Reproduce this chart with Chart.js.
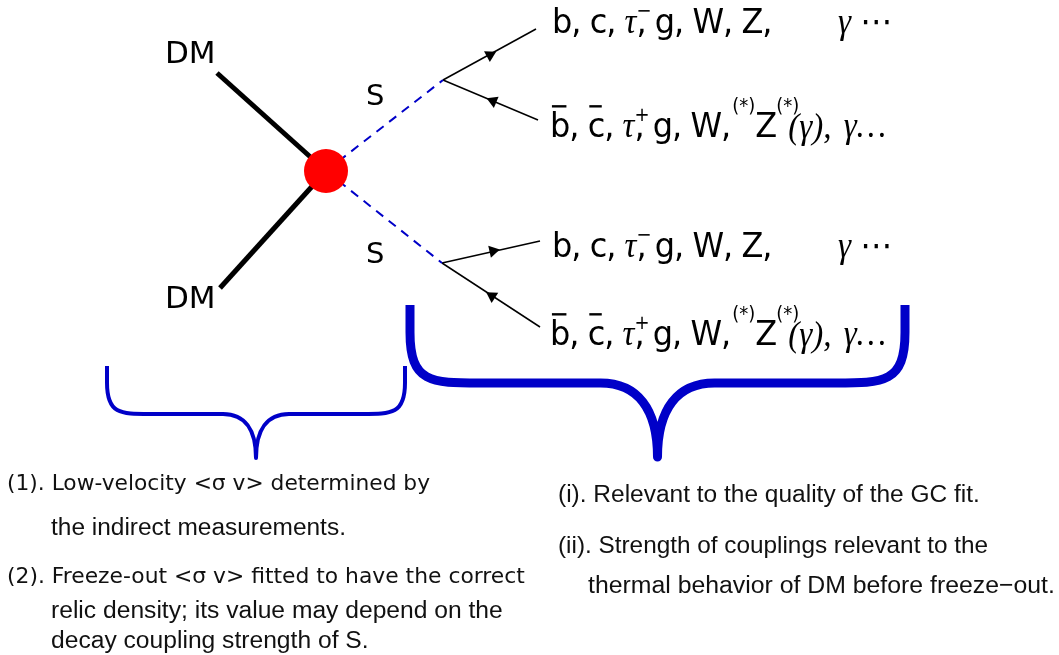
<!DOCTYPE html>
<html>
<head>
<meta charset="utf-8">
<script src="https://cdn.jsdelivr.net/npm/chart.js@4.4.1/dist/chart.umd.min.js"></script>
<style>
  html, body { margin: 0; padding: 0; background: #fff; }
  #diagram { display: block; }
</style>
</head>
<body>
<canvas id="diagram" width="1059" height="655"></canvas>
<script>
// diagram points, in picture units (x to the right, y downwards)
const blobX = [326];
const blobY = [171];
const dmLegX = [217, 220];
const dmLegY = [73, 288];
const sEndX = [443, 442];
const sEndY = [80, 263];
// fermion lines, two for each S
const fEndX = [536, 538, 540, 540];
const fEndY = [29, 120, 241, 327];
const fFrom = [0, 0, 1, 1];
const arrowX = [490, 493, 493, 492];
const arrowY = [55, 101, 251, 296];
const arrowIn = [false, true, false, true];
// braces: small one under the annihilation, big one under the decays
const braceL = [107, 410];
const braceR = [405, 905];
const braceTop = [366, 305];
const braceBar = [414, 383];
const braceTip = [458, 457];

const dmLabels = ['DM', 'DM'];
const sLabels = ['S', 'S'];
const rowX = [552, 550, 552, 550];
const rowY = [33, 137, 257, 345];
const rowAnti = [false, true, false, true];

const notesLeft = [
  '(1). Low-velocity <σ v> determined by',
  'the indirect measurements.',
  '(2). Freeze-out <σ v> fitted to have the correct',
  'relic density; its value may depend on the',
  'decay coupling strength of S.'
];
const notesRight = [
  '(i). Relevant to the quality of the GC fit.',
  '(ii). Strength of couplings relevant to the',
  'thermal behavior of DM before freeze\u2212out.'
];

const BLUE = '#0000c8';
const SANS = 'DejaVu Sans';
const HELV = 'Liberation Sans';
const SERIF = 'Liberation Serif';

const leftLayout = [
  {x: 7, y: 490, w: 423, family: SANS},
  {x: 51, y: 535, w: 295, family: HELV},
  {x: 7, y: 583, w: 518, family: SANS},
  {x: 51, y: 618, w: 452, family: HELV},
  {x: 51, y: 648, family: HELV, like: 3}
];
const rightLayout = [
  {x: 558, y: 502, w: 422, family: HELV},
  {x: 558, y: 553, w: 430, family: HELV},
  {x: 588, y: 593, w: 467, family: HELV}
];

const seg = (x1, y1, x2, y2) => [{x: x1, y: y1}, {x: x2, y: y2}];

const datasets = [];
datasets.push({
  data: [{x: blobX[0], y: blobY[0]}],
  showLine: false,
  pointRadius: 22,
  pointBackgroundColor: '#ff0000',
  pointBorderWidth: 0,
  order: -1
});
dmLegX.forEach((x, i) => datasets.push({
  data: seg(x, dmLegY[i], blobX[0], blobY[0]),
  showLine: true, borderColor: '#000', borderWidth: 5, pointRadius: 0
}));
sEndX.forEach((x, i) => datasets.push({
  data: seg(blobX[0], blobY[0], x, sEndY[i]),
  showLine: true, borderColor: BLUE, borderWidth: 2, borderDash: [9, 7], pointRadius: 0
}));
fEndX.forEach((x, i) => datasets.push({
  data: seg(sEndX[fFrom[i]], sEndY[fFrom[i]], x, fEndY[i]),
  showLine: true, borderColor: '#000', borderWidth: 1.5, pointRadius: 0
}));

// arrow heads follow the direction of their fermion line
const arrowRot = fEndX.map((x, i) => {
  const dx = x - sEndX[fFrom[i]], dy = fEndY[i] - sEndY[fFrom[i]];
  let deg = Math.atan2(dy, dx) * 180 / Math.PI + 90;
  return arrowIn[i] ? deg + 180 : deg;
});
datasets.push({
  data: arrowX.map((x, i) => ({x: x, y: arrowY[i]})),
  showLine: false,
  pointStyle: 'triangle',
  pointRadius: 7,
  pointRotation: arrowRot,
  pointBackgroundColor: '#000',
  pointBorderWidth: 0
});

// the particle rows are set a little taller and tighter than DejaVu draws them
const ROW_STRETCH = 1.08;

function drawRuns(ctx, x0, y0, runs) {
  ctx.save();
  ctx.translate(x0, y0);
  ctx.scale(1, ROW_STRETCH);
  let x = 0;
  runs.forEach(r => {
    ctx.font = r.font;
    ctx.letterSpacing = r.font === F ? '-1px' : '0px';
    x += r.dx || 0;
    ctx.fillText(r.t, x, r.dy || 0);
    const w = ctx.measureText(r.t).width;
    if (r.bar) ctx.fillRect(x + w * 0.1, -29.5, w * 0.75, 2.2);
    if (r.adv !== false) x += w;
  });
  ctx.restore();
}

const F = '32px ' + SANS;
const IT = 'italic 33px ' + SERIF;
const SUP = '18px ' + SANS;

const overlay = {
  id: 'overlay',
  afterDatasetsDraw(chart) {
    const ctx = chart.ctx;
    const sx = chart.scales.x, sy = chart.scales.y;
    const X = v => sx.getPixelForValue(v), Y = v => sy.getPixelForValue(v);
    ctx.save();

    // braces
    braceL.forEach((l, i) => {
      const r = braceR[i], top = Y(braceTop[i]), bar = Y(braceBar[i]), tip = Y(braceTip[i]);
      const x0 = X(l), x1 = X(r), xm = (x0 + x1) / 2;
      const rc = i === 0 ? 43 : 70, q = i === 0 ? 33 : 57;
      const hook = (bar - top) * 0.35;
      ctx.beginPath();
      ctx.moveTo(x0, top);
      ctx.lineTo(x0, top + hook);
      ctx.bezierCurveTo(x0, bar, x0 + rc * 0.3, bar, x0 + rc, bar);
      ctx.lineTo(xm - q, bar);
      ctx.bezierCurveTo(xm - q * 0.35, bar, xm, bar + (tip - bar) * 0.35, xm, tip);
      ctx.bezierCurveTo(xm, bar + (tip - bar) * 0.35, xm + q * 0.35, bar, xm + q, bar);
      ctx.lineTo(x1 - rc, bar);
      ctx.bezierCurveTo(x1 - rc * 0.3, bar, x1, bar, x1, top + hook);
      ctx.lineTo(x1, top);
      ctx.strokeStyle = BLUE;
      ctx.lineWidth = i === 0 ? 4 : 9;
      ctx.lineJoin = 'round';
      ctx.stroke();
    });

    ctx.fillStyle = '#000';
    ctx.textBaseline = 'alphabetic';
    ctx.font = '31px ' + SANS;
    ctx.fillText(dmLabels[0], X(165), Y(63));
    ctx.fillText(dmLabels[1], X(165), Y(308));
    ctx.font = '29px ' + SANS;
    ctx.fillText(sLabels[0], X(366), Y(105));
    ctx.fillText(sLabels[1], X(366), Y(263));

    // final states
    rowX.forEach((x, i) => {
      const px = X(x), py = Y(rowY[i]);
      if (!rowAnti[i]) {
        drawRuns(ctx, px, py, [
          {t: 'b, c, ', font: F},
          {t: 'τ', font: IT},
          {t: '\u2212', font: SUP, dy: -15, adv: false},
          {t: ', g, W, Z,', font: F}
        ]);
        drawRuns(ctx, X(838), py, [
          {t: 'γ', font: IT},
          {t: ' \u22ef', font: F}
        ]);
      } else {
        drawRuns(ctx, px, py, [
          {t: 'b', font: F, bar: true},
          {t: ', ', font: F},
          {t: 'c', font: F, bar: true},
          {t: ', ', font: F},
          {t: 'τ', font: IT},
          {t: '+', font: SUP, dy: -15, adv: false},
          {t: ', g, W,', font: F},
          {t: '(*)', font: SUP, dy: -23, dx: 2},
          {t: 'Z', font: F},
          {t: '(*)', font: SUP, dy: -23, adv: false},
          {t: '(γ),', font: IT, dx: 12, dy: 1},
          {t: ' γ…', font: IT, dx: 4}
        ]);
      }
    });

    // notes under the braces
    const notes = (texts, layout) => {
      const sizes = [];
      layout.forEach((L, i) => {
        let size = 20;
        if (L.w) {
          ctx.font = '20px ' + L.family;
          size = 20 * L.w / ctx.measureText(texts[i]).width;
        } else if (L.like !== undefined) {
          size = sizes[L.like];
        }
        sizes.push(size);
        ctx.font = size.toFixed(2) + 'px ' + L.family;
        ctx.fillText(texts[i], X(L.x), Y(L.y));
      });
    };
    ctx.fillStyle = '#111';
    notes(notesLeft, leftLayout);
    notes(notesRight, rightLayout);

    ctx.restore();
  }
};

new Chart(document.getElementById('diagram'), {
  type: 'scatter',
  data: { datasets: datasets },
  options: {
    responsive: false,
    animation: false,
    devicePixelRatio: 1,
    events: [],
    layout: { padding: 0, autoPadding: false },
    datasets: { scatter: { clip: false } },
    scales: {
      x: { type: 'linear', min: 0, max: 1059, display: false },
      y: { type: 'linear', min: 0, max: 655, reverse: true, display: false }
    },
    plugins: {
      legend: { display: false },
      tooltip: { enabled: false }
    }
  },
  plugins: [overlay]
});
</script>
</body>
</html>
